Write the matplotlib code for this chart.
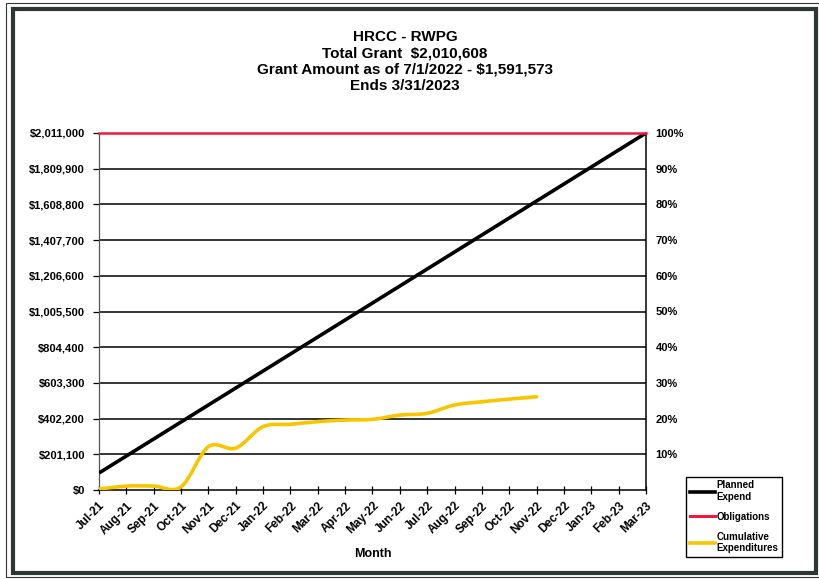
import matplotlib
matplotlib.use("Agg")
import matplotlib.pyplot as plt
from matplotlib.lines import Line2D
from matplotlib.patches import PathPatch, Rectangle
from matplotlib.path import Path
from matplotlib.ticker import FuncFormatter

plt.rcParams["font.family"] = ["Liberation Sans", "DejaVu Sans"]
plt.rcParams["font.weight"] = "bold"

months = ["Jul-21", "Aug-21", "Sep-21", "Oct-21", "Nov-21", "Dec-21", "Jan-22",
          "Feb-22", "Mar-22", "Apr-22", "May-22", "Jun-22", "Jul-22", "Aug-22",
          "Sep-22", "Oct-22", "Nov-22", "Dec-22", "Jan-23", "Feb-23", "Mar-23"]

planned = [95762, 191524, 287286, 383048, 478810, 574571, 670333, 766095,
           861857, 957619, 1053381, 1149143, 1244905, 1340667, 1436429,
           1532190, 1627952, 1723714, 1819476, 1915238, 2011000]

obligations = [2011000] * len(months)

# cumulative expenditures only reported through Nov-22
cumulative = [5000, 22000, 22000, 18000, 244000, 236000, 357000, 370000,
              385000, 394000, 398000, 422000, 432000, 479000, 497000,
              512000, 525000]

y_ticks = [0, 201100, 402200, 603300, 804400, 1005500, 1206600, 1407700,
           1608800, 1809900, 2011000]
pct_labels = ["", "10%", "20%", "30%", "40%", "50%", "60%", "70%", "80%",
              "90%", "100%"]

title = ("HRCC - RWPG\nTotal Grant  $2,010,608\n"
         "Grant Amount as of 7/1/2022 - $1,591,573\nEnds 3/31/2023")


def smooth_path(xs, ys):
    # catmull-rom style bezier, like excel's smoothed line
    verts = [(xs[0], ys[0])]
    codes = [Path.MOVETO]
    n = len(xs)
    for i in range(n - 1):
        x0, y0 = (xs[i - 1], ys[i - 1]) if i > 0 else (xs[i], ys[i])
        x1, y1 = xs[i], ys[i]
        x2, y2 = xs[i + 1], ys[i + 1]
        x3, y3 = (xs[i + 2], ys[i + 2]) if i + 2 < n else (x2, y2)
        c1 = (x1 + (x2 - x0) / 6, y1 + (y2 - y0) / 6)
        c2 = (x2 - (x3 - x1) / 6, y2 - (y3 - y1) / 6)
        verts += [c1, c2, (x2, y2)]
        codes += [Path.CURVE4] * 3
    return Path(verts, codes)


fig = plt.figure(figsize=(8.2, 5.79), dpi=100)
ax = fig.add_axes([99 / 820, 1 - 490 / 579, 547 / 820, 357 / 579])

x = list(range(len(months)))
ax.set_xlim(0, len(months) - 1)
ax.set_ylim(0, 2011000)

for v in y_ticks[1:-1]:
    ax.axhline(v, color="black", lw=1.1, zorder=1)

ax.plot(x, planned, color="black", lw=2.6, zorder=3, solid_capstyle="butt")
ax.plot(x, obligations, color="#f0183c", lw=1.8, zorder=4, clip_on=False)
ax.add_patch(PathPatch(smooth_path(x[:len(cumulative)], cumulative),
                       facecolor="none", edgecolor="#f7c600", lw=2.6,
                       zorder=5, capstyle="round"))

ax.set_yticks(y_ticks)
ax.yaxis.set_major_formatter(FuncFormatter(lambda v, p: "${:,.0f}".format(v)))
ax.tick_params(axis="y", direction="out", length=4, width=0.9, labelsize=8,
               pad=6, colors="black")
ax.set_xticks(x)
ax.set_xticklabels(months, rotation=45, ha="right", rotation_mode="anchor")
ax.tick_params(axis="x", direction="inout", length=6, width=0.9, labelsize=8.5,
               pad=4)
ax.set_xlabel("Month", fontsize=9, fontweight="bold", labelpad=8)

ax.spines["top"].set_visible(False)
ax.spines["left"].set_color("#555555")
ax.spines["left"].set_linewidth(0.9)
ax.spines["bottom"].set_linewidth(1.1)
ax.spines["right"].set_linewidth(1.1)

ax2 = ax.twinx()
ax2.set_ylim(ax.get_ylim())
ax2.set_yticks(y_ticks)
ax2.set_yticklabels(pct_labels)
ax2.tick_params(axis="y", length=0, labelsize=8, pad=7)
for s in ax2.spines.values():
    s.set_visible(False)

fig.text(405 / 820, 1 - 30 / 579, title, ha="center", va="top",
         fontsize=11, fontweight="bold", linespacing=1.22)

handles = [Line2D([], [], color="black", lw=2.6),
           Line2D([], [], color="#f0183c", lw=2.2),
           Line2D([], [], color="#f7c600", lw=2.6)]
leg = fig.legend(handles, ["Planned\nExpend", "Obligations", "Cumulative\nExpenditures"],
                 loc="lower left", bbox_to_anchor=(686 / 820, 22 / 579),
                 fontsize=7, handlelength=2.6, handletextpad=0.1,
                 borderpad=0.4, labelspacing=1.0, fancybox=False,
                 framealpha=1, edgecolor="black", borderaxespad=0)
leg.get_frame().set_linewidth(1.0)

# double frame around the whole chart
fig.patches.append(Rectangle((6 / 820, 2 / 579), 830 / 820, 574 / 579,
                             transform=fig.transFigure, fill=False,
                             edgecolor="#333333", lw=0.8))
fig.patches.append(Rectangle((13 / 820, 6 / 579), 803 / 820, 564 / 579,
                             transform=fig.transFigure, fill=False,
                             edgecolor="#2c3632", lw=3.0))

fig.savefig("out.png", dpi=100)
